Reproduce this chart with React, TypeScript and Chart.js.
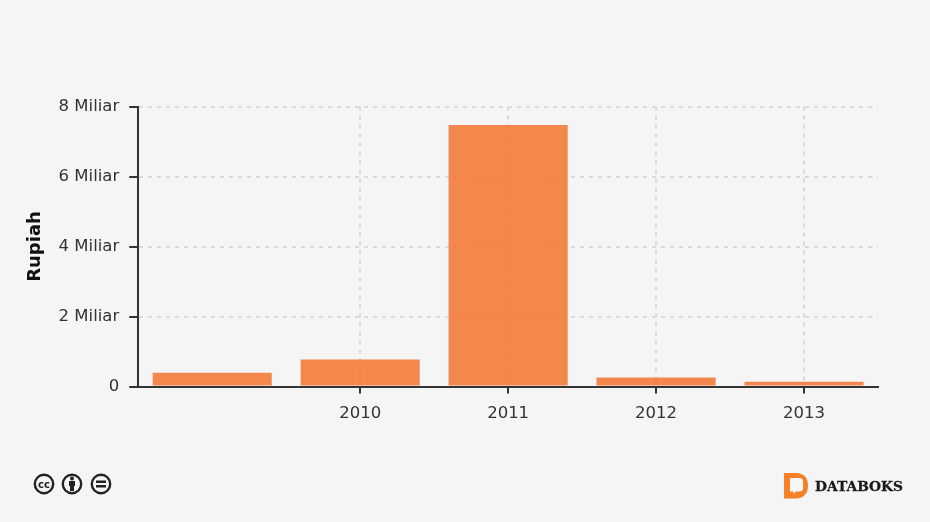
import React, { useEffect, useRef } from "react";
import { Chart, registerables } from "chart.js";

Chart.register(...registerables);

const categories = ["", "2010", "2011", "2012", "2013"];
const values = [390000000, 770000000, 7470000000, 260000000, 135000000];
const yTicks = [0, 2000000000, 4000000000, 6000000000, 8000000000];
const yTickLabels = ["0", "2 Miliar", "4 Miliar", "6 Miliar", "8 Miliar"];
const yTitle = "Rupiah";
const brandName = "DATABOKS";

const FONT = "'DejaVu Sans', sans-serif";
const INK = "#333333";
const GRID = "#dadada";

export default function App() {
  const ref = useRef<HTMLCanvasElement>(null);
  useEffect(() => {
    document.body.style.margin = "0";
    document.body.style.background = "#f5f5f5";
    const chart = new Chart(ref.current!, {
      type: "bar",
      data: {
        labels: categories,
        datasets: [
          {
            data: values,
            backgroundColor: "rgba(243,120,50,0.87)",
            borderWidth: 0,
            barPercentage: 1,
            categoryPercentage: 0.805,
          },
        ],
      },
      options: {
        animation: false,
        responsive: false,
        devicePixelRatio: 1,
        layout: { padding: { left: 24.25, top: 106.5, right: 52, bottom: 0 } },
        plugins: { legend: { display: false }, tooltip: { enabled: false } },
        scales: {
          x: {
            afterFit: (s: any) => {
              s.height = 135.5;
            },
            grid: {
              offset: false,
              color: (c: any) => (c.index === 0 ? "transparent" : GRID),
              tickColor: (c: any) => (c.index === 0 ? "transparent" : INK),
              tickLength: 7,
              tickWidth: 2,
              lineWidth: 2,
            },
            border: { color: INK, width: 2, dash: [4, 5], z: 1 },
            ticks: {
              color: INK,
              font: { family: FONT, size: 16.5 },
              padding: 10,
              maxRotation: 0,
              autoSkip: false,
            },
          },
          y: {
            min: 0,
            max: 8000000000,
            afterFit: (s: any) => {
              s.width = 114;
            },
            afterBuildTicks: (s: any) => {
              s.ticks = yTicks.map((value) => ({ value }));
            },
            grid: {
              color: (c: any) => (c.index === 0 ? "transparent" : GRID),
              tickColor: INK,
              tickLength: 9,
              tickWidth: 2,
              lineWidth: 2,
            },
            border: { color: INK, width: 2, dash: [4, 5] },
            title: {
              display: true,
              text: yTitle,
              color: "#111111",
              font: { family: FONT, size: 18, weight: "bold" },
              padding: 0,
            },
            ticks: {
              color: INK,
              font: { family: FONT, size: 16.5 },
              padding: 10,
              callback: (_v: any, i: number) => yTickLabels[i],
            },
          },
        },
      },
    } as any);
    return () => chart.destroy();
  }, []);

  return (
    <div style={{ position: "relative", width: 930, height: 522, background: "#f5f5f5", overflow: "hidden" }}>
      <canvas ref={ref} width={930} height={522} style={{ display: "block" }} />
      <svg width={930} height={522} style={{ position: "absolute", left: 0, top: 0 }}>
        {[44, 72, 101].map((cx) => (
          <circle key={cx} cx={cx} cy={484} r={9.2} fill="#f5f5f5" stroke="#222" strokeWidth={2.4} />
        ))}
        <text x={44} y={487.5} textAnchor="middle" fontFamily="'DejaVu Sans'" fontWeight="bold" fontSize={10} fill="#222">cc</text>
        <circle cx={72} cy={478.5} r={2} fill="#222" />
        <rect x={69} y={481} width={6} height={5} fill="#222" />
        <rect x={70} y={485} width={4} height={6} fill="#222" />
        <rect x={96} y={480.5} width={10} height={2.5} fill="#222" />
        <rect x={96} y={485} width={10} height={2.5} fill="#222" />
        <path d="M784 473h12c8 0 12 5 12 12.500s-4 13-12 13h-12z" fill="#f58025" />
        <path d="M790 478h9c3 0 4 1.500 4 3.500v7c0 2-1.500 3-3.500 3h-3.500l-2.500 2.500v-2.500h-3.500z" fill="#f5f5f5" />
        <text x={815} y={491} fontFamily="'DejaVu Serif'" fontWeight="bold" fontSize={13.8} stroke="#1a1a1a" strokeWidth={0.3} fill="#1a1a1a">{brandName}</text>
      </svg>
    </div>
  );
}
